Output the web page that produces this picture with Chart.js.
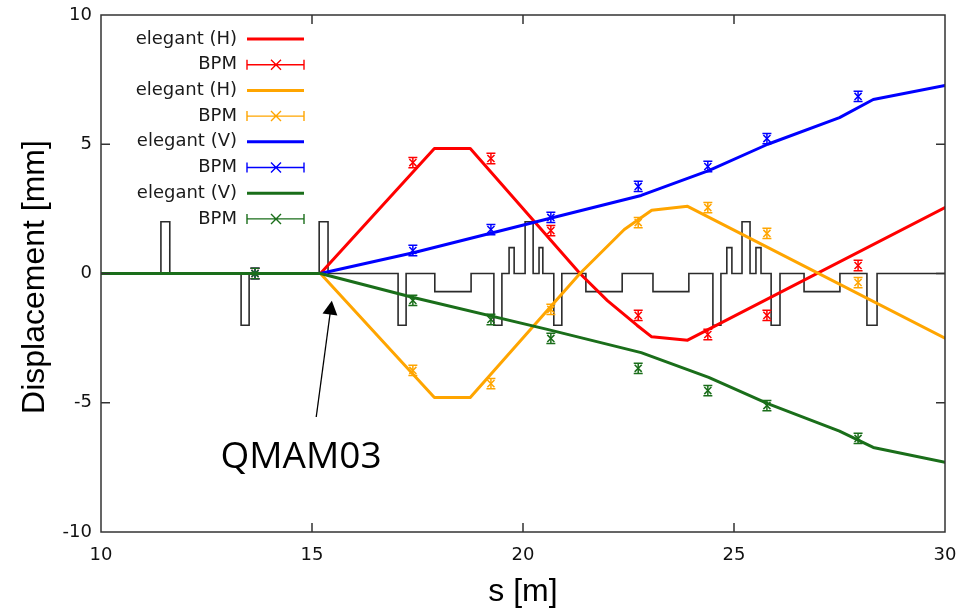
<!DOCTYPE html>
<html>
<head>
<meta charset="utf-8">
<script src="https://cdn.jsdelivr.net/npm/chart.js@4/dist/chart.umd.min.js"></script>
<style>
  html, body { margin: 0; padding: 0; background: #ffffff; }
  canvas { display: block; }
</style>
</head>
<body>
<canvas id="orbit-chart" width="959" height="613"></canvas>
<script>
// 궤도 변위 데이터 (elegant 계산값 + BPM 측정값)
const xTicks = [10, 15, 20, 25, 30];
const yTicks = [-10, -5, 0, 5, 10];

// elegant 계산 궤도 (H: 수평, V: 수직)
const redS = [10, 15.2, 17.9, 18.75, 21.35, 22.0, 22.7, 23.05, 23.9, 30];
const redY = [0, 0, 4.84, 4.84, 0, -1.05, -2.0, -2.45, -2.58, 2.55];
const orangeS = [10, 15.2, 17.9, 18.75, 21.35, 22.4, 23.05, 23.9, 30];
const orangeY = [0, 0, -4.8, -4.8, 0, 1.7, 2.45, 2.6, -2.5];
const blueS = [10, 15.2, 17.4, 20.6, 22.8, 24.4, 25.8, 27.5, 28.3, 30];
const blueY = [0, 0, 0.8, 2.12, 3.02, 3.98, 5.0, 6.03, 6.73, 7.27];
const greenS = [10, 15.2, 17.4, 20.6, 22.8, 24.4, 25.8, 27.5, 28.3, 30];
const greenY = [0, 0, -0.93, -2.17, -3.06, -4.02, -5.03, -6.1, -6.73, -7.3];

// BPM 위치와 측정값
const bpmS = [13.65, 17.39, 19.24, 20.66, 22.73, 24.38, 25.78, 27.94];
const redBpm = [0, 4.29, 4.45, 1.66, -1.62, -2.36, -1.62, 0.31];
const orangeBpm = [0, -3.75, -4.26, -1.39, 1.97, 2.55, 1.55, -0.35];
const blueBpm = [0, 0.89, 1.70, 2.17, 3.37, 4.14, 5.22, 6.85];
const greenBpm = [0, -1.04, -1.78, -2.51, -3.67, -4.53, -5.11, -6.38];
const bpmErr = [0.2, 0.2, 0.2, 0.2, 0.2, 0.2, 0.2, 0.2];

// 래티스 요소 (시작, 끝, 높이)
const elemStart = [11.42, 13.32, 15.17, 17.04, 17.91, 19.31, 19.67, 20.05, 20.38, 20.73, 21.49, 23.08, 24.5, 24.83, 25.19, 25.52, 25.88, 26.66, 28.15];
const elemEnd = [11.63, 13.51, 15.38, 17.23, 18.77, 19.5, 19.79, 20.24, 20.47, 20.92, 22.35, 23.93, 24.69, 24.95, 25.38, 25.64, 26.09, 27.51, 28.39];
const elemHeight = [2, -2, 2, -2, -0.7, -2, 1, 2, 1, -2, -0.7, -0.7, -2, 1, 2, 1, -2, -0.7, -2];

// 주석 (QMAM03 화살표)
const arrowTail = [15.1, -5.55];
const arrowTip = [15.47, -1.05];
const labelAt = [14.74, -7.12];
const labelText = 'QMAM03';

const legendLabels = ['elegant (H)', 'BPM', 'elegant (H)', 'BPM', 'elegant (V)', 'BPM', 'elegant (V)', 'BPM'];
const colors = { red: '#ff0000', orange: '#ffa500', blue: '#0000ff', green: '#1a6e1a' };

const toPoints = (xs, ys) => xs.map((x, i) => ({ x: x, y: ys[i] }));

// 래티스를 하나의 폴리라인으로 구성
function latticePoints() {
    const pts = [{ x: 10, y: 0 }];
    elemStart.forEach((s, i) => {
        pts.push({ x: s, y: 0 }, { x: s, y: elemHeight[i] }, { x: elemEnd[i], y: elemHeight[i] }, { x: elemEnd[i], y: 0 });
    });
    pts.push({ x: 30, y: 0 });
    return pts;
}

function lineSet(label, xs, ys, color, order) {
    return {
        label: label, data: toPoints(xs, ys), showLine: true,
        borderColor: color, backgroundColor: color, borderWidth: 3,
        pointRadius: 0, pointHoverRadius: 0, tension: 0, order: order,
        borderJoinStyle: 'round', borderCapStyle: 'round'
    };
}

function bpmSet(ys, color, order) {
    return {
        label: 'BPM', data: toPoints(bpmS, ys), showLine: false,
        borderColor: color, backgroundColor: color, borderWidth: 1.5,
        pointStyle: 'crossRot', pointRadius: 5, pointHoverRadius: 5,
        order: order, errors: bpmErr
    };
}

// 에러바 (데이터셋별로 그리기 순서 유지)
const errorBars = {
    id: 'errorBars',
    afterDatasetDraw(chart, args) {
        const ds = chart.data.datasets[args.index];
        if (!ds.errors) return;
        const ctx = chart.ctx;
        const ys = chart.scales.y;
        ctx.save();
        ctx.strokeStyle = ds.borderColor;
        ctx.lineWidth = 1.5;
        args.meta.data.forEach((pt, i) => {
            const v = ds.data[i].y;
            const top = ys.getPixelForValue(v + ds.errors[i]);
            const bot = ys.getPixelForValue(v - ds.errors[i]);
            ctx.beginPath();
            ctx.moveTo(pt.x, top); ctx.lineTo(pt.x, bot);
            ctx.moveTo(pt.x - 4.5, top); ctx.lineTo(pt.x + 4.5, top);
            ctx.moveTo(pt.x - 4.5, bot); ctx.lineTo(pt.x + 4.5, bot);
            ctx.stroke();
        });
        ctx.restore();
    }
};

// 테두리, 안쪽 눈금, 범례, 축 제목, 주석
const frame = {
    id: 'frame',
    afterDraw(chart) {
        const ctx = chart.ctx;
        const a = chart.chartArea;
        const xs = chart.scales.x, ys = chart.scales.y;
        ctx.save();
        ctx.strokeStyle = '#333333';
        ctx.lineWidth = 1.5;
        ctx.strokeRect(a.left, a.top, a.right - a.left, a.bottom - a.top);
        ctx.beginPath();
        xTicks.slice(1, -1).forEach(t => {
            const px = xs.getPixelForValue(t);
            ctx.moveTo(px, a.bottom); ctx.lineTo(px, a.bottom - 9);
            ctx.moveTo(px, a.top); ctx.lineTo(px, a.top + 9);
        });
        yTicks.slice(1, -1).forEach(t => {
            const py = ys.getPixelForValue(t);
            ctx.moveTo(a.left, py); ctx.lineTo(a.left + 9, py);
            ctx.moveTo(a.right, py); ctx.lineTo(a.right - 9, py);
        });
        ctx.stroke();

        // 범례
        const lineColors = [colors.red, colors.red, colors.orange, colors.orange, colors.blue, colors.blue, colors.green, colors.green];
        ctx.font = '18px "DejaVu Sans"';
        ctx.textAlign = 'right';
        ctx.textBaseline = 'middle';
        legendLabels.forEach((txt, i) => {
            const y = 39 + i * 25.7;
            ctx.fillStyle = '#1a1a1a';
            ctx.fillText(txt, 237, y);
            ctx.strokeStyle = lineColors[i];
            ctx.beginPath();
            if (i % 2 === 0) {
                ctx.lineWidth = 3;
                ctx.moveTo(247, y); ctx.lineTo(304, y);
            } else {
                ctx.lineWidth = 1.4;
                ctx.moveTo(247, y); ctx.lineTo(304, y);
                ctx.moveTo(247, y - 5); ctx.lineTo(247, y + 5);
                ctx.moveTo(304, y - 5); ctx.lineTo(304, y + 5);
                ctx.moveTo(271, y - 5); ctx.lineTo(281, y + 5);
                ctx.moveTo(271, y + 5); ctx.lineTo(281, y - 5);
            }
            ctx.stroke();
        });

        // 축 제목
        ctx.fillStyle = '#000000';
        ctx.font = '32px "Liberation Sans"';
        ctx.textAlign = 'center';
        ctx.fillText('s [m]', 523, 592);
        ctx.save();
        ctx.translate(35, 277);
        ctx.rotate(-Math.PI / 2);
        ctx.fillText('Displacement [mm]', 0, 0);
        ctx.restore();

        // QMAM03 화살표
        const tx = xs.getPixelForValue(arrowTail[0]), ty = ys.getPixelForValue(arrowTail[1]);
        const hx = xs.getPixelForValue(arrowTip[0]), hy = ys.getPixelForValue(arrowTip[1]);
        const ang = Math.atan2(hy - ty, hx - tx);
        ctx.strokeStyle = '#000000';
        ctx.fillStyle = '#000000';
        ctx.lineWidth = 1.3;
        ctx.beginPath();
        ctx.moveTo(tx, ty);
        ctx.lineTo(hx - 12 * Math.cos(ang), hy - 12 * Math.sin(ang));
        ctx.stroke();
        ctx.beginPath();
        ctx.moveTo(hx, hy);
        ctx.lineTo(hx - 14 * Math.cos(ang) + 7.5 * Math.sin(ang), hy - 14 * Math.sin(ang) - 7.5 * Math.cos(ang));
        ctx.lineTo(hx - 14 * Math.cos(ang) - 7.5 * Math.sin(ang), hy - 14 * Math.sin(ang) + 7.5 * Math.cos(ang));
        ctx.closePath();
        ctx.fill();
        ctx.font = '37px "Open Sans"';
        ctx.textAlign = 'center';
        ctx.textBaseline = 'middle';
        ctx.fillText(labelText, xs.getPixelForValue(labelAt[0]), ys.getPixelForValue(labelAt[1]));
        ctx.restore();
    }
};

const datasets = [
    {
        label: 'lattice', data: latticePoints(), showLine: true,
        borderColor: '#2b2b2b', borderWidth: 1.6, pointRadius: 0, pointHoverRadius: 0,
        tension: 0, order: 100
    },
    lineSet('elegant (H)', redS, redY, colors.red, 8),
    bpmSet(redBpm, colors.red, 7),
    lineSet('elegant (H)', orangeS, orangeY, colors.orange, 6),
    bpmSet(orangeBpm, colors.orange, 5),
    lineSet('elegant (V)', blueS, blueY, colors.blue, 4),
    bpmSet(blueBpm, colors.blue, 3),
    lineSet('elegant (V)', greenS, greenY, colors.green, 2),
    bpmSet(greenBpm, colors.green, 1)
];

const chart = new Chart(document.getElementById('orbit-chart'), {
    type: 'scatter',
    data: { datasets: datasets },
    options: {
        responsive: false,
        animation: false,
        devicePixelRatio: 1,
        layout: { padding: { left: 0, top: 15, right: 14, bottom: 0 } },
        plugins: { legend: { display: false }, tooltip: { enabled: false } },
        scales: {
            x: {
                type: 'linear', min: 10, max: 30,
                afterBuildTicks: s => { s.ticks = xTicks.map(v => ({ value: v })); },
                // 라벨 여백 자동 계산 무시 (플롯 영역 고정)
                afterFit: s => { s.height = 81; s.paddingLeft = 0; s.paddingRight = 0; },
                grid: { display: false, drawTicks: false },
                border: { display: false },
                ticks: { padding: 13, color: '#111111', font: { family: 'DejaVu Sans', size: 18 }, maxRotation: 0 }
            },
            y: {
                type: 'linear', min: -10, max: 10,
                afterBuildTicks: s => { s.ticks = yTicks.map(v => ({ value: v })); },
                afterFit: s => { s.width = 101; s.paddingTop = 0; s.paddingBottom = 0; },
                grid: { display: false, drawTicks: false },
                border: { display: false },
                ticks: { padding: 9, color: '#111111', font: { family: 'DejaVu Sans', size: 18 } }
            }
        }
    },
    plugins: [errorBars, frame]
});
console.log('chart ready', chart.chartArea);
</script>
</body>
</html>
